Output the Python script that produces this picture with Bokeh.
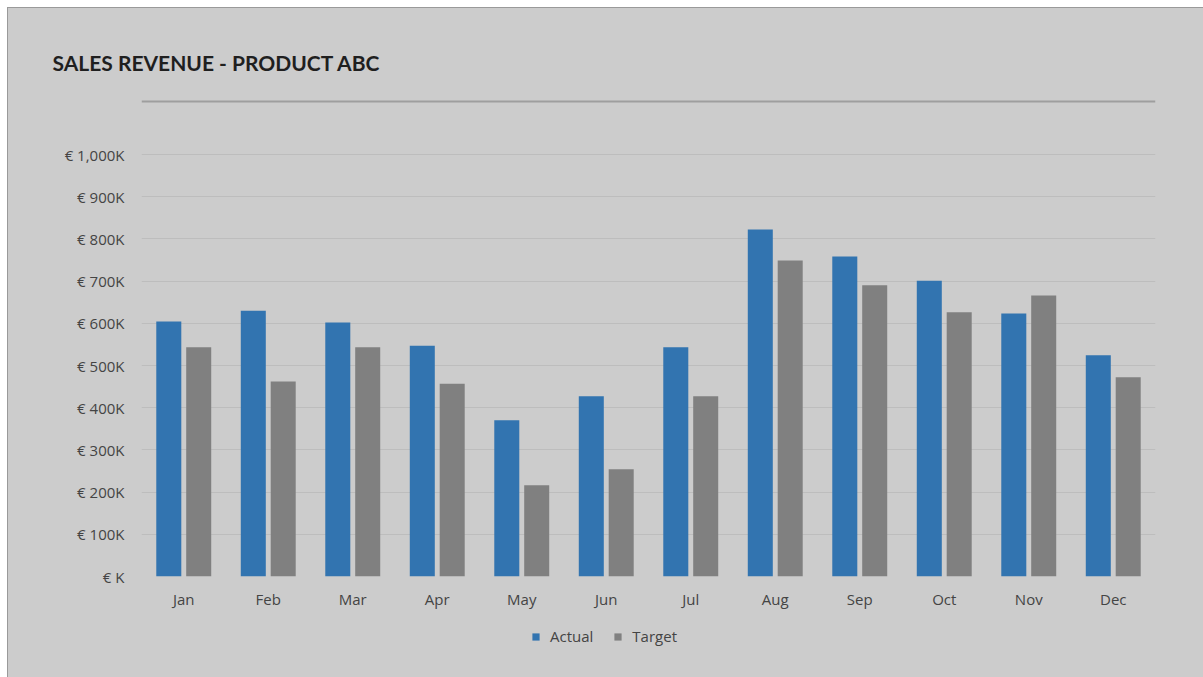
from bokeh.plotting import figure
from bokeh.layouts import column
from bokeh.models import (Range1d, Legend, LegendItem, FixedTicker, ColumnDataSource, Span)
from bokeh.transform import dodge
from bokeh.embed import file_html
from bokeh.resources import INLINE

months = ["Jan", "Feb", "Mar", "Apr", "May", "Jun", "Jul", "Aug", "Sep", "Oct", "Nov", "Dec"]
actual = [604, 630, 602, 547, 370, 427, 543, 822, 758, 701, 623, 524]
target = [543, 462, 543, 457, 216, 254, 427, 749, 690, 626, 666, 472]
y_ticks = [0, 100, 200, 300, 400, 500, 600, 700, 800, 900, 1000]
y_tick_labels = ["€ K", "€ 100K", "€ 200K", "€ 300K", "€ 400K", "€ 500K",
                 "€ 600K", "€ 700K", "€ 800K", "€ 900K", "€ 1,000K"]
series_names = ["Actual", "Target"]
title_text = "SALES REVENUE - PRODUCT ABC"

BG = "#cccccc"
BLUE = "#3274b0"
GRAY = "#808080"
FONT = "Open Sans"
TXT = "#444444"
W = 1195

# pixel layout (plot frame: 422 px tall for the 0..1000 span)
PX_PER_UNIT = 422 / 1000
FRAME_H = 486            # frame from separator area down to the zero line
Y_MAX = FRAME_H / PX_PER_UNIT
SEP_Y = 1000 + 53 / PX_PER_UNIT

src = ColumnDataSource(dict(month=months, actual=actual, target=target))
p = figure(x_range=months, y_range=Range1d(0, Y_MAX), width=W, height=612,
           output_backend="svg", toolbar_location=None,
           min_border_left=133, min_border_right=48, min_border_top=82,
           min_border_bottom=44,
           background_fill_color=BG, border_fill_color=BG, outline_line_color=None)

p.title.text = title_text
p.title.align = "left"
p.title.offset = -89
p.title.standoff = 31
p.title.text_font = "Lato"
p.title.text_font_style = "bold"
p.title.text_font_size = "21px"
p.title.text_color = "#1f1f1f"

r1 = p.vbar(x=dodge("month", -0.177, range=p.x_range), top="actual", width=0.296,
            source=src, fill_color=BLUE, line_color=None)
r2 = p.vbar(x=dodge("month", 0.177, range=p.x_range), top="target", width=0.296,
            source=src, fill_color=GRAY, line_color=None)

p.yaxis.ticker = FixedTicker(ticks=y_ticks)
p.yaxis.major_label_overrides = {t: l for t, l in zip(y_ticks, y_tick_labels)}
for ax in (p.xaxis[0], p.yaxis[0]):
    ax.axis_line_color = None
    ax.major_tick_line_color = None
    ax.minor_tick_line_color = None
    ax.major_tick_out = 0
    ax.major_tick_in = 0
    ax.major_label_text_font = FONT
    ax.major_label_text_font_size = "15px"
    ax.major_label_text_color = TXT
p.yaxis.major_label_standoff = 17
p.xaxis.major_label_standoff = 12
p.xgrid.grid_line_color = None
p.ygrid.grid_line_color = "#bdbdbd"
p.ygrid.grid_line_width = 1

p.add_layout(Span(location=SEP_Y, dimension="width", line_color="#9e9e9e", line_width=2))

# ---- footer: legend (zero-height proxy bars carry the legend swatches) ----
footer = figure(width=W, height=57, x_range=Range1d(0, 1), y_range=Range1d(0, 1),
                output_backend="svg", toolbar_location=None,
                x_axis_location=None, y_axis_location=None,
                background_fill_color=BG, border_fill_color=BG, outline_line_color=None)
footer.min_border = 0
footer.xgrid.visible = False
footer.ygrid.visible = False
l1 = footer.vbar(x=[0.5], top=[0], bottom=[0], width=0, fill_color=BLUE, line_color=None)
l2 = footer.vbar(x=[0.5], top=[0], bottom=[0], width=0, fill_color=GRAY, line_color=None)
legend = Legend(items=[LegendItem(label=series_names[0], renderers=[l1]),
                       LegendItem(label=series_names[1], renderers=[l2])],
                orientation="horizontal", location=(390, 31),
                background_fill_alpha=0, border_line_color=None,
                glyph_width=9, glyph_height=9, label_standoff=10, spacing=20,
                label_text_font=FONT, label_text_font_size="15px",
                label_text_color=TXT, margin=0, padding=6)
footer.add_layout(legend)

layout = column(p, footer, spacing=0, margin=(7, 0, 0, 7),
                styles={"border-top": "1px solid #9a9a9a", "border-left": "1px solid #9a9a9a",
                        "background-color": BG})

open("out.html", "w").write(file_html(layout, INLINE))
